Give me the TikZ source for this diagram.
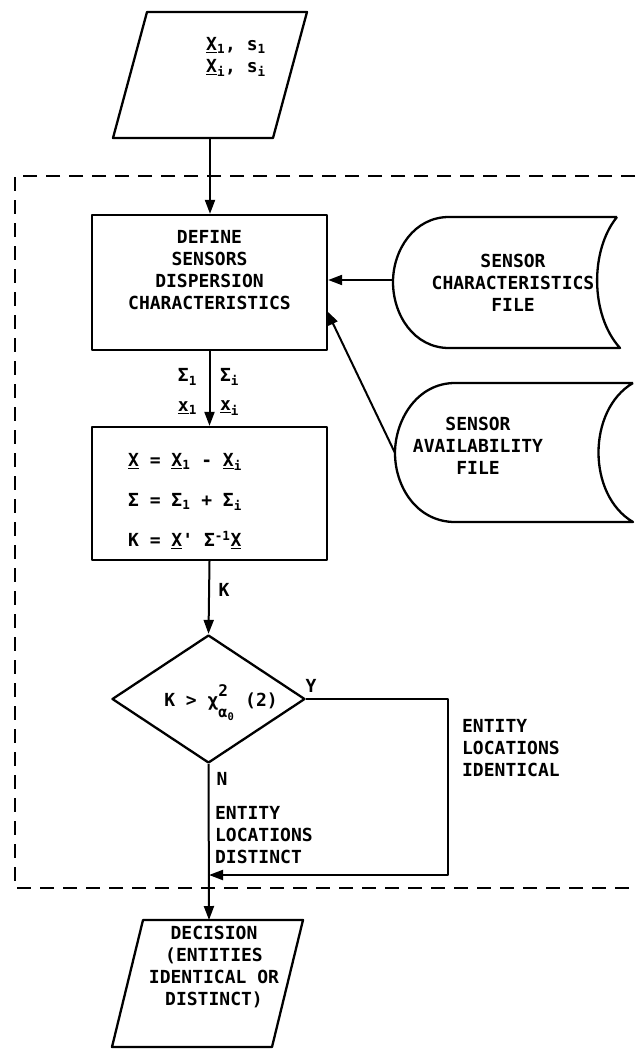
\documentclass[tikz,border=0pt]{standalone}
\usepackage{fontspec}
\setmonofont{DejaVu Sans Mono}
\usetikzlibrary{arrows.meta,shapes.geometric}
\begin{document}
\begin{tikzpicture}[x=1pt,y=-1pt,line width=2.3pt,line join=round,
  lbl/.style={font=\ttfamily\bfseries\fontsize{18}{22}\selectfont,inner sep=0pt,align=center},
  proc/.style={draw,rectangle,minimum width=235pt,inner sep=0pt},
  decn/.style={draw,diamond,minimum width=193pt,minimum height=128pt,inner sep=0pt},
  arr/.style={-{Triangle[length=14pt,width=10pt]},line width=2pt},
  frame/.style={dash pattern=on 14pt off 9pt,line width=2.3pt}]
\useasboundingbox (0,0) rectangle (635,1049);

% dashed frame
\draw[frame] (635,176) -- (15,176) -- (15,888) -- (635,888);

% input parallelogram
\draw (147,12) -- (307,12) -- (273,138) -- (113,138) -- cycle;
\coordinate (inB) at (210,138);
\node[lbl] (intext) at (236,57) {\underline{X}\textsubscript{1}, s\textsubscript{1}\\\underline{X}\textsubscript{i}, s\textsubscript{i}};

% process boxes
\node[proc,minimum height=135pt] (def) at (209.5,282.5) {};
\node[lbl] (deftext) at (209.5,270) {DEFINE\\SENSORS\\DISPERSION\\CHARACTERISTICS};
\node[proc,minimum height=133pt] (calc) at (209.5,493.5) {};
\node[lbl,anchor=west] (c1) at (127,462) {\underline{X} = \underline{X}\textsubscript{1} - \underline{X}\textsubscript{i}};
\node[lbl,anchor=west] (c2) at (127,502) {Σ = Σ\textsubscript{1} + Σ\textsubscript{i}};
\node[lbl,anchor=west] (c3) at (127,540) {K = \underline{X}'  Σ\textsuperscript{-1}\underline{X}};

% decision diamond
\node[decn] (dec) at (208.5,699) {};
\node[lbl] (dectext) at (221,703) {K > χ\rlap{\raisebox{10pt}{\fontsize{16}{16}\selectfont 2}}\raisebox{-11pt}{\fontsize{15}{15}\selectfont α\textsubscript{0}} (2)};

% files
\draw (617,217) -- (449,217) .. controls (414,217) and (393,250) .. (393,282)
  .. controls (393,315) and (414,348) .. (449,348) -- (620,348)
  .. controls (590,315) and (590,250) .. (617,217);
\coordinate (cf) at (393,280);
\node[lbl] (cftext) at (513,283) {SENSOR\\CHARACTERISTICS\\FILE};
\draw (633,383) -- (455,383) .. controls (417,383) and (395,420) .. (395,453)
  .. controls (395,487) and (417,522) .. (455,522) -- (633,522)
  .. controls (587,495) and (587,410) .. (633,383);
\coordinate (af) at (395,453);
\node[lbl] (aftext) at (478,446) {SENSOR\\AVAILABILITY\\FILE};

% connectors
\draw[arr] (inB) -- (inB |- def.north);
\draw[arr] (def.south) -- (calc.north);
\node[lbl,anchor=east] (s1) at (198,377) {Σ\textsubscript{1}};
\node[lbl,anchor=east] (x1) at (198,408) {\underline{x}\textsubscript{1}};
\node[lbl,anchor=west] (si) at (219,377) {Σ\textsubscript{i}};
\node[lbl,anchor=west] (xi) at (219,408) {\underline{x}\textsubscript{i}};
\draw[arr] (calc.south) -- (dec.north);
\node[lbl] (klbl) at (224,590) {K};
\draw[arr] (cf) -- (def.east |- cf);
\coordinate (defin) at (327,311);
\draw[arr] (af) -- (defin);
\coordinate (ret) at (209,875);
\draw[arr] (dec.east) -- (448,699) |- (ret);
\node[lbl] (ylbl) at (311,686) {Y};
\coordinate (outT) at (209,920);
\draw[arr] (dec.south) -- (outT);
\node[lbl] (nlbl) at (222,779) {N};
\node[lbl,align=left,anchor=west] (ident) at (461,748) {ENTITY\\LOCATIONS\\IDENTICAL};
\node[lbl,align=left,anchor=west] (dist) at (214,835) {ENTITY\\LOCATIONS\\DISTINCT};

% output parallelogram
\draw (143,920) -- (303,920) -- (272,1047) -- (112,1047) -- cycle;
\node[lbl] (outtext) at (214,967) {DECISION\\(ENTITIES\\IDENTICAL OR\\DISTINCT)};
\end{tikzpicture}
\end{document}
